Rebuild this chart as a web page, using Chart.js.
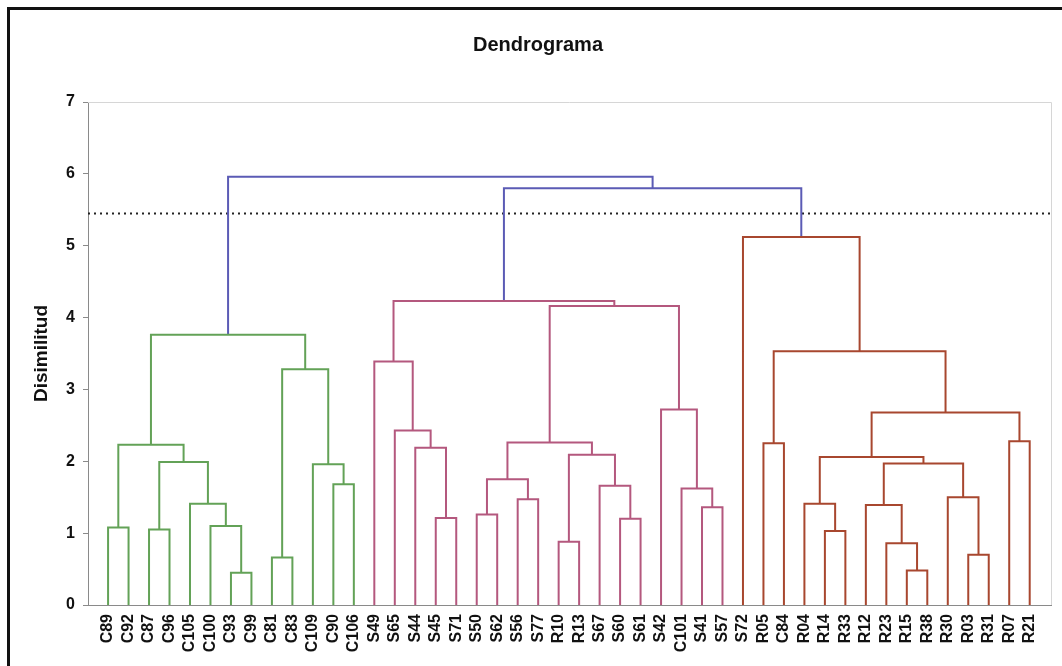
<!DOCTYPE html>
<html>
<head>
<meta charset="utf-8">
<title>Dendrograma</title>
<script src="https://cdn.jsdelivr.net/npm/chart.js@4.4.1/dist/chart.umd.min.js"></script>
<style>
  html, body { margin: 0; padding: 0; background: #fff; overflow: hidden; }
  #wrap { position: relative; width: 1062px; height: 666px; }
  #frame { position: absolute; left: 7px; top: 7px; width: 1100px; height: 700px; border: 3px solid #111; pointer-events: none; }
</style>
</head>
<body>
<div id="wrap">
  <canvas id="dendro" width="1062" height="666"></canvas>
  <div id="frame"></div>
</div>
<script>
// leaf order along the x axis
const leaves = ['C89', 'C92', 'C87', 'C96', 'C105', 'C100', 'C93', 'C99', 'C81', 'C83', 'C109', 'C90', 'C106',
  'S49', 'S65', 'S44', 'S45', 'S71', 'S50', 'S62', 'S56', 'S77', 'R10', 'R13', 'S67', 'S60', 'S61', 'S42', 'C101', 'S41', 'S57',
  'S72', 'R05', 'C84', 'R04', 'R14', 'R33', 'R12', 'R23', 'R15', 'R38', 'R30', 'R03', 'R31', 'R07', 'R21'];

// merges: [id, left child, right child, dissimilarity]
const greenMerges = [
  ['g1', 'C89', 'C92', 1.08],
  ['g2', 'C87', 'C96', 1.05],
  ['g3', 'C93', 'C99', 0.45],
  ['g4', 'C100', 'g3', 1.10],
  ['g5', 'C105', 'g4', 1.41],
  ['g6', 'g2', 'g5', 1.99],
  ['g7', 'g1', 'g6', 2.23],
  ['g8', 'C81', 'C83', 0.66],
  ['g9', 'C90', 'C106', 1.68],
  ['g10', 'C109', 'g9', 1.96],
  ['g11', 'g8', 'g10', 3.28],
  ['g12', 'g7', 'g11', 3.76]
];
const pinkMerges = [
  ['p1', 'S45', 'S71', 1.21],
  ['p2', 'S44', 'p1', 2.19],
  ['p3', 'S65', 'p2', 2.43],
  ['p4', 'S49', 'p3', 3.39],
  ['p5', 'S50', 'S62', 1.26],
  ['p6', 'S56', 'S77', 1.47],
  ['p7', 'p5', 'p6', 1.75],
  ['p8', 'R10', 'R13', 0.88],
  ['p9', 'S60', 'S61', 1.20],
  ['p10', 'S67', 'p9', 1.66],
  ['p11', 'p8', 'p10', 2.09],
  ['p12', 'p7', 'p11', 2.26],
  ['p13', 'S41', 'S57', 1.36],
  ['p14', 'C101', 'p13', 1.62],
  ['p15', 'S42', 'p14', 2.72],
  ['p16', 'p12', 'p15', 4.16],
  ['p17', 'p4', 'p16', 4.23]
];
const redMerges = [
  ['r1', 'R14', 'R33', 1.03],
  ['r2', 'R04', 'r1', 1.41],
  ['r3', 'R15', 'R38', 0.48],
  ['r4', 'R23', 'r3', 0.86],
  ['r5', 'R12', 'r4', 1.39],
  ['r6', 'R03', 'R31', 0.70],
  ['r7', 'R30', 'r6', 1.50],
  ['r8', 'r5', 'r7', 1.97],
  ['r9', 'r2', 'r8', 2.06],
  ['r10', 'R07', 'R21', 2.28],
  ['r11', 'r9', 'r10', 2.68],
  ['r12', 'R05', 'C84', 2.25],
  ['r13', 'r12', 'r11', 3.53],
  ['r14', 'S72', 'r13', 5.12]
];
const blueMerges = [
  ['b1', 'p17', 'r14', 5.80],
  ['b2', 'g12', 'b1', 5.96]
];

const cutHeight = 5.45;
const yMax = 7;
const xMin = -0.98;
const xMax = 46.04;

const groups = [
  { merges: greenMerges, color: '#63a257' },
  { merges: pinkMerges, color: '#b4587e' },
  { merges: redMerges, color: '#a8472f' },
  { merges: blueMerges, color: '#5b5bb5' }
];

const nodes = {};
leaves.forEach((name, i) => { nodes[name] = { x: i, h: 0 }; });

const linkPoints = m => {
  const [id, a, b, h] = m;
  const A = nodes[a], B = nodes[b];
  nodes[id] = { x: (A.x + B.x) / 2, h: h };
  return [{ x: A.x, y: A.h }, { x: A.x, y: h }, { x: B.x, y: h }, { x: B.x, y: B.h }];
};

const datasets = [];
groups.forEach(g => {
  g.merges.forEach(m => {
    datasets.push({
      data: linkPoints(m),
      showLine: true,
      borderColor: g.color,
      borderWidth: 2,
      pointRadius: 0,
      tension: 0,
      fill: false
    });
  });
});

// cut line
datasets.push({
  data: [{ x: xMin, y: cutHeight }, { x: xMax, y: cutHeight }],
  showLine: true,
  borderColor: '#222',
  borderWidth: 2,
  borderDash: [2, 4],
  pointRadius: 0,
  fill: false
});

const bold = size => ({ family: '"Liberation Sans", Arial, sans-serif', size: size, weight: 'bold' });

// light frame on top/right of the plot + the chart title
const plotFrame = {
  id: 'plotFrame',
  beforeDatasetsDraw(chart) {
    const { ctx, chartArea: a } = chart;
    ctx.save();
    ctx.strokeStyle = '#d6d6d6';
    ctx.lineWidth = 1;
    ctx.beginPath();
    ctx.moveTo(a.left, a.top + 0.5);
    ctx.lineTo(a.right + 0.5, a.top + 0.5);
    ctx.lineTo(a.right + 0.5, a.bottom);
    ctx.stroke();

    ctx.fillStyle = '#111';
    ctx.font = 'bold 20px "Liberation Sans", Arial, sans-serif';
    ctx.textAlign = 'center';
    ctx.textBaseline = 'middle';
    ctx.fillText('Dendrograma', 538, 45);
    ctx.restore();
  }
};

new Chart(document.getElementById('dendro'), {
  type: 'scatter',
  data: { datasets: datasets },
  options: {
    responsive: false,
    animation: false,
    layout: { padding: { left: 0, right: 11, top: 102, bottom: 0 } },
    plugins: {
      legend: { display: false },
      tooltip: { enabled: false },
      title: { display: false }
    },
    scales: {
      x: {
        type: 'linear',
        min: xMin,
        max: xMax,
        afterBuildTicks: s => { s.ticks = leaves.map((_, i) => ({ value: i })); },
        afterFit: s => { s.height = 61; },
        grid: { display: false, drawTicks: false },
        border: { display: true, color: '#8a8a8a' },
        ticks: {
          autoSkip: false,
          minRotation: 90,
          maxRotation: 90,
          padding: 9,
          color: '#111',
          font: bold(16),
          callback: v => leaves[v]
        }
      },
      y: {
        min: 0,
        max: yMax,
        afterFit: s => { s.width = 88; },
        grid: { drawOnChartArea: false, drawTicks: true, tickLength: 5, color: '#8a8a8a' },
        border: { color: '#8a8a8a' },
        ticks: { stepSize: 1, padding: 8, color: '#111', font: bold(16) },
        title: {
          display: true,
          text: 'Disimilitud',
          color: '#111',
          font: bold(19),
          padding: { top: 30, bottom: 0 }
        }
      }
    }
  },
  plugins: [plotFrame]
});
</script>
</body>
</html>
